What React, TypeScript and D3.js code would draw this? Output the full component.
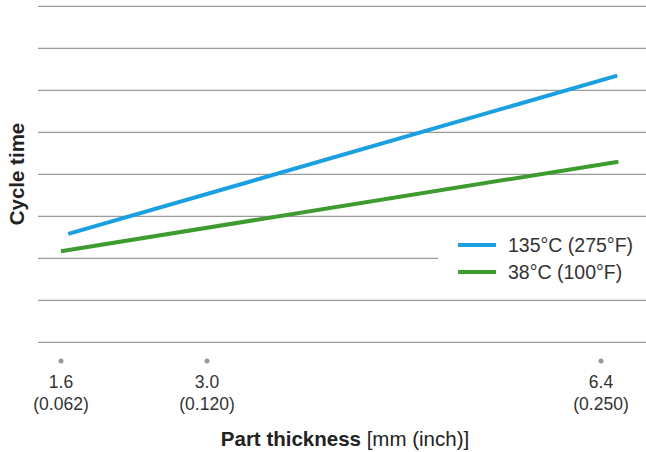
import React from "react";
import * as d3 from "d3";

const xTickValues = [1.6, 3.0, 6.4];
const xTickMm = ["1.6", "3.0", "6.4"];
const xTickInch = ["(0.062)", "(0.120)", "(0.250)"];
const gridValues = [0, 1, 2, 3, 4, 5, 6, 7, 8];

const hotX = [1.67, 6.54];
const hotY = [2.58, 6.35];
const coldX = [1.6, 6.55];
const coldY = [2.17, 4.3];

const seriesNames = ["135°C (275°F)", "38°C (100°F)"];
const seriesColors = ["#1a9fe0", "#3e9b2f"];

const W = 646;
const H = 452;

export default function App() {
  const x = d3.scaleLinear().domain(xTickValues).range([61, 207, 601]);
  const y = d3.scaleLinear().domain([0, 8]).range([342.3, 6.3]);
  const line = d3
    .line<[number, number]>()
    .x((d) => x(d[0]))
    .y((d) => y(d[1]));
  const series = [
    { name: seriesNames[0], color: seriesColors[0], pts: hotX.map((v, i) => [v, hotY[i]] as [number, number]) },
    { name: seriesNames[1], color: seriesColors[1], pts: coldX.map((v, i) => [v, coldY[i]] as [number, number]) },
  ];
  const font = "'Liberation Sans', Arial, Helvetica, sans-serif";
  return (
    <svg
      width={W}
      height={H}
      style={{ position: "absolute", left: 0, top: 0, background: "#fff" }}
      fontFamily={font}
    >
      {gridValues.map((g) => (
        <line key={g} x1={38} x2={646} y1={y(g)} y2={y(g)} stroke="#9a9a9a" strokeWidth={1.3} />
      ))}
      <rect x={438} y={230} width={208} height={60} fill="#fff" />
      {series.map((s) => (
        <path key={s.name} d={line(s.pts) || ""} fill="none" stroke={s.color} strokeWidth={4} />
      ))}
      {series.map((s, i) => (
        <g key={s.name} transform={`translate(0, ${i * 27})`}>
          <line x1={458} x2={496} y1={245} y2={245} stroke={s.color} strokeWidth={4} />
          <text x={508} y={252} fontSize={19.5} fill="#333">
            {s.name}
          </text>
        </g>
      ))}
      {xTickValues.map((v, i) => (
        <g key={v} transform={`translate(${x(v)}, 0)`}>
          <circle cx={0} cy={361} r={2.5} fill="#999" />
          <text x={0} y={388} fontSize={17.5} textAnchor="middle" fill="#333">
            {xTickMm[i]}
          </text>
          <text x={0} y={409.5} fontSize={17.5} textAnchor="middle" fill="#333">
            {xTickInch[i]}
          </text>
        </g>
      ))}
      <text x={345} y={446} fontSize={20.5} textAnchor="middle" fill="#222">
        <tspan fontWeight="bold">Part thickness</tspan>
        <tspan> [mm (inch)]</tspan>
      </text>
      <text
        transform="translate(24, 174) rotate(-90)"
        fontSize={20.5}
        fontWeight="bold"
        textAnchor="middle"
        fill="#222"
      >
        Cycle time
      </text>
    </svg>
  );
}
